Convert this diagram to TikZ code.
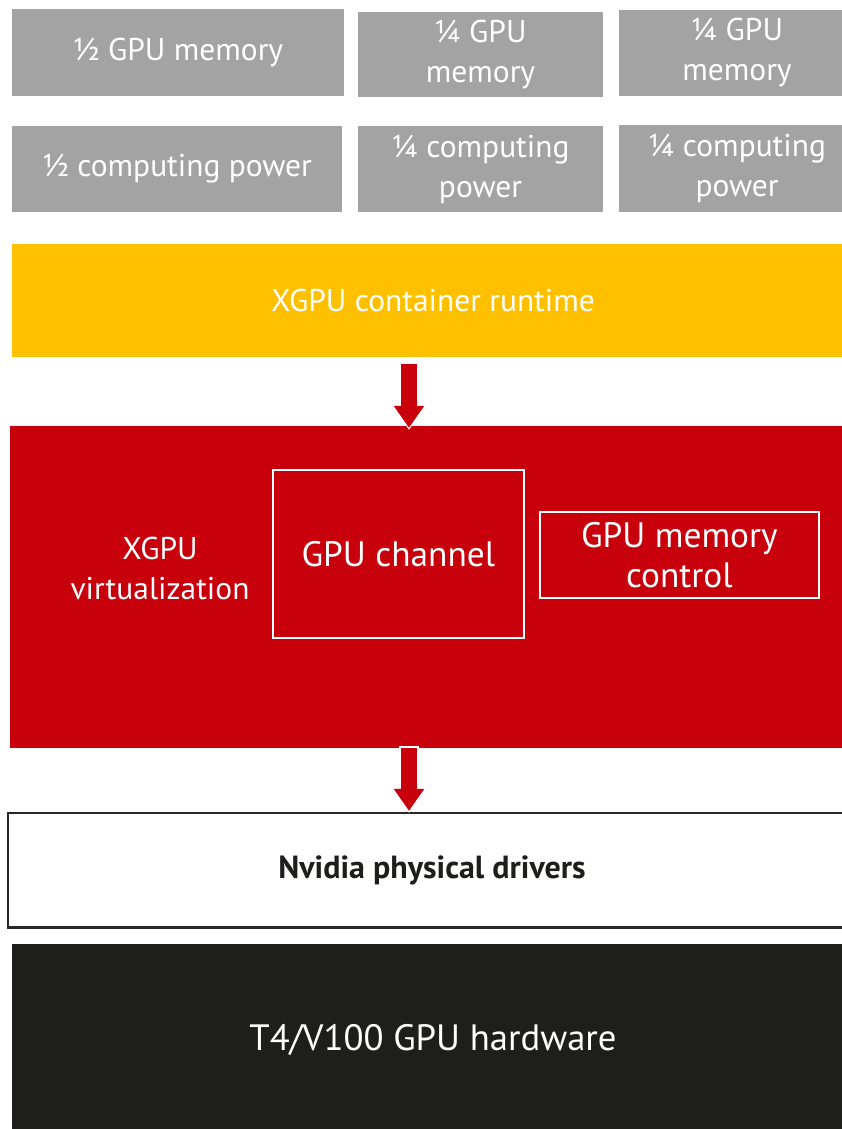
\documentclass[tikz,border=0pt]{standalone}
\usepackage{fontspec}
\setmainfont{PT Sans}
\usetikzlibrary{arrows.meta}
\definecolor{boxgray}{RGB}{163,163,163}
\definecolor{xyellow}{RGB}{255,192,0}
\definecolor{xred}{RGB}{199,0,11}
\definecolor{xblack}{RGB}{30,30,28}
\definecolor{xborder}{RGB}{40,40,38}
\begin{document}
\begin{tikzpicture}[x=0.75pt,y=-0.75pt,
  blk/.style={anchor=north west, inner sep=0pt, outer sep=0pt, align=center,
    font=\fontsize{23.6pt}{30pt}\selectfont},
  graybox/.style={blk, fill=boxgray, text=white},
  bigtxt/.style={font=\fontsize{26.5pt}{30pt}\selectfont},
  fatw/.style={line width=14.5pt, white, -{Triangle[width=24.5pt,length=18.5pt]}},
  fatr/.style={line width=12pt, xred, -{Triangle[width=21.75pt,length=16.5pt]}, shorten >=1.6pt, shorten <=1.6pt}
]
\useasboundingbox (0,0) rectangle (842,1129);
% top gray boxes
\node[graybox, minimum width=249pt, minimum height=65.25pt] (m1) at (12,9) {½ GPU memory};
\node[graybox, minimum width=183.75pt, minimum height=63.75pt] (m2) at (358,12) {¼ GPU\\memory};
\node[graybox, minimum width=177pt, minimum height=64.5pt] (m3) at (619,10) {¼ GPU\\memory};
\node[graybox, minimum width=247.5pt, minimum height=64.5pt] (c1) at (12,126) {½ computing power};
\node[graybox, minimum width=183.75pt, minimum height=64.5pt] (c2) at (358,126) {¼ computing\\power};
\node[graybox, minimum width=177pt, minimum height=65.25pt] (c3) at (619,125) {¼ computing\\power};
% yellow runtime
\node[blk, fill=xyellow, text=white, minimum width=631.5pt, minimum height=84.75pt] (yel) at (12,244) {XGPU container runtime};
% red virtualization
\node[blk, fill=xred, minimum width=634pt, minimum height=241.5pt] (red) at (10,426) {};
\node[blk, anchor=center, text=white] (virt) at (160,568) {XGPU\\virtualization};
\node[blk, bigtxt, draw=white, line width=1.6pt, text=white, minimum width=188pt, minimum height=126pt] (chan) at (273,470) {GPU channel};
\node[blk, bigtxt, draw=white, line width=1.6pt, text=white, minimum width=209pt, minimum height=64.5pt] (memc) at (540,512) {GPU memory\\control};
% drivers
\node[blk, fill=white, draw=xborder, line width=2.2pt, text=xblack, minimum width=636pt, minimum height=86pt,
  font=\fontsize{24pt}{30pt}\selectfont\bfseries] (nv) at (8,813) {Nvidia physical drivers};
% hardware
\node[blk, fill=xblack, text=white, minimum width=631.5pt, minimum height=144pt,
  font=\fontsize{27.5pt}{34pt}\selectfont] (hw) at (12,944) {T4/V100 GPU hardware};
% arrows
\coordinate (a1) at (409,362);
\coordinate (a2) at (409,746);
\draw[fatw] (a1) -- ([yshift=-3pt]a1 |- red.north);
\draw[fatr] (a1) -- ([yshift=-3pt]a1 |- red.north);
\draw[fatw] (a2) -- (a2 |- nv.north);
\draw[fatr] (a2) -- (a2 |- nv.north);
\end{tikzpicture}
\end{document}
